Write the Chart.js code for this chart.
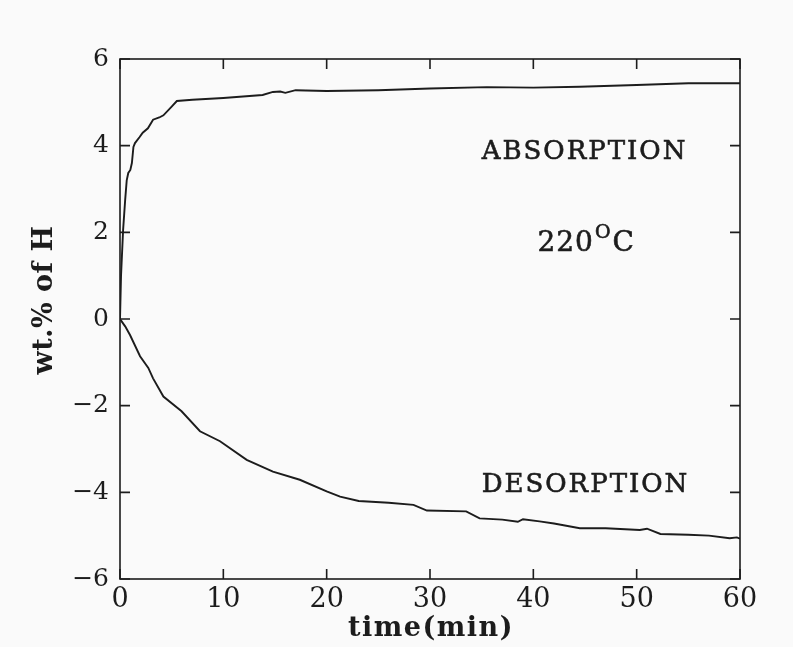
<!DOCTYPE html>
<html>
<head>
<meta charset="utf-8">
<script src="https://cdn.jsdelivr.net/npm/chart.js@4/dist/chart.umd.min.js"></script>
<style>
  html, body { margin: 0; padding: 0; background: #fafafa; }
  #wrap { width: 793px; height: 647px; }
</style>
</head>
<body>
<div id="wrap"><canvas id="c" width="793" height="647"></canvas></div>
<script>
// ---- data ----
const absorptionTime = [0, 0.1, 0.3, 0.5, 0.65, 0.8, 1.0, 1.15, 1.3, 1.45, 1.9, 2.2, 2.7, 3.2, 3.8, 4.2, 5.0, 5.5, 7, 10, 13.8, 14.8, 15.5, 16, 17, 20, 25, 30, 35.5, 40, 44.5, 50, 55, 60];
const absorptionWt   = [0, 1.0, 2.05, 2.75, 3.2, 3.37, 3.44, 3.6, 3.97, 4.06, 4.2, 4.3, 4.4, 4.6, 4.65, 4.7, 4.9, 5.03, 5.06, 5.1, 5.17, 5.24, 5.25, 5.22, 5.28, 5.26, 5.28, 5.32, 5.35, 5.34, 5.36, 5.4, 5.44, 5.44];
const desorptionTime = [0, 0.5, 0.97, 1.94, 2.74, 3.2, 4.2, 5.96, 7.74, 9.68, 12.26, 14.8, 17.4, 20, 21.3, 23.1, 26, 28.4, 29.7, 33.5, 34.8, 37, 38.5, 39, 40.6, 42, 44.5, 47, 50.3, 51, 52.3, 55, 57, 59, 59.7, 60];
const desorptionWt   = [0, -0.17, -0.37, -0.86, -1.13, -1.37, -1.79, -2.13, -2.59, -2.82, -3.25, -3.52, -3.71, -3.98, -4.1, -4.2, -4.24, -4.29, -4.42, -4.44, -4.6, -4.63, -4.68, -4.62, -4.67, -4.72, -4.83, -4.83, -4.87, -4.84, -4.96, -4.98, -5.0, -5.06, -5.04, -5.07];
const xTicks = [0, 10, 20, 30, 40, 50, 60];
const yTicks = [-6, -4, -2, 0, 2, 4, 6];

const ink = '#1c1c1c';
const serif = '"DejaVu Serif", "Liberation Serif", serif';

function pts(xs, ys) { return xs.map((x, i) => ({ x: x, y: ys[i] })); }

function heavyText(ctx, text, px, py) {
  ctx.fillText(text, px, py);
  ctx.strokeText(text, px, py);
}

const frame = {
  id: 'frame',
  afterDraw(chart) {
    const { ctx, chartArea: a, scales: { x, y } } = chart;
    ctx.save();
    ctx.strokeStyle = ink;
    ctx.lineWidth = 1.6;
    ctx.strokeRect(a.left, a.top, a.right - a.left, a.bottom - a.top);
    const L = 10;
    ctx.beginPath();
    xTicks.forEach(v => {
      const px = x.getPixelForValue(v);
      ctx.moveTo(px, a.bottom); ctx.lineTo(px, a.bottom - L);
      ctx.moveTo(px, a.top); ctx.lineTo(px, a.top + L);
    });
    yTicks.forEach(v => {
      const py = y.getPixelForValue(v);
      ctx.moveTo(a.left, py); ctx.lineTo(a.left + L, py);
      ctx.moveTo(a.right, py); ctx.lineTo(a.right - L, py);
    });
    ctx.stroke();

    // annotations
    ctx.fillStyle = ink;
    ctx.lineWidth = 0.6;
    ctx.textBaseline = 'alphabetic';
    ctx.textAlign = 'left';
    ctx.font = '26px ' + serif;
    ctx.letterSpacing = '2px';
    heavyText(ctx, 'ABSORPTION', x.getPixelForValue(35), y.getPixelForValue(3.7));
    heavyText(ctx, 'DESORPTION', x.getPixelForValue(35), y.getPixelForValue(-4.0));
    ctx.letterSpacing = '1px';
    const bx = x.getPixelForValue(40.4), by = y.getPixelForValue(1.58);
    ctx.font = '28px ' + serif;
    heavyText(ctx, '220', bx, by);
    const w = ctx.measureText('220').width;
    ctx.font = '19px ' + serif;
    heavyText(ctx, 'O', bx + w + 1, by - 13);
    const w2 = ctx.measureText('O').width;
    ctx.font = '28px ' + serif;
    heavyText(ctx, 'C', bx + w + w2 + 2, by);

    // axis titles
    ctx.letterSpacing = '1.5px';
    ctx.font = 'bold 27px ' + serif;
    ctx.textAlign = 'center';
    ctx.textBaseline = 'alphabetic';
    ctx.fillText('time(min)', (a.left + a.right) / 2 + 1, 636);
    ctx.letterSpacing = '0.5px';
    ctx.translate(45, 300);
    ctx.rotate(-Math.PI / 2);
    ctx.textBaseline = 'middle';
    ctx.fillText('wt.% of H', 0, 0);
    ctx.restore();
  }
};

new Chart(document.getElementById('c'), {
  type: 'scatter',
  data: {
    datasets: [
      { label: 'ABSORPTION', data: pts(absorptionTime, absorptionWt), showLine: true, borderColor: ink, borderWidth: 1.9, pointRadius: 0, tension: 0 },
      { label: 'DESORPTION', data: pts(desorptionTime, desorptionWt), showLine: true, borderColor: ink, borderWidth: 1.9, pointRadius: 0, tension: 0 }
    ]
  },
  options: {
    responsive: false,
    animation: false,
    devicePixelRatio: 1,
    layout: { padding: { left: 0, right: 53, top: 59, bottom: 0 } },
    plugins: { legend: { display: false }, tooltip: { enabled: false } },
    scales: {
      x: {
        type: 'linear', min: 0, max: 60,
        afterFit(s) { s.height = 68; },
        afterBuildTicks(s) { s.ticks = xTicks.map(v => ({ value: v })); },
        grid: { display: false, drawTicks: false },
        border: { display: false },
        ticks: { color: ink, font: { family: serif, size: 27 }, padding: 5, maxRotation: 0 },
        title: { display: false }
      },
      y: {
        type: 'linear', min: -6, max: 6,
        afterFit(s) { s.width = 120; },
        afterBuildTicks(s) { s.ticks = yTicks.map(v => ({ value: v })); },
        grid: { display: false, drawTicks: false },
        border: { display: false },
        ticks: { color: ink, font: { family: serif, size: 25 }, padding: 11,
                 callback: v => v < 0 ? '\u2212' + Math.abs(v) : String(v) },
        title: { display: false }
      }
    }
  },
  plugins: [frame]
});
</script>
</body>
</html>
